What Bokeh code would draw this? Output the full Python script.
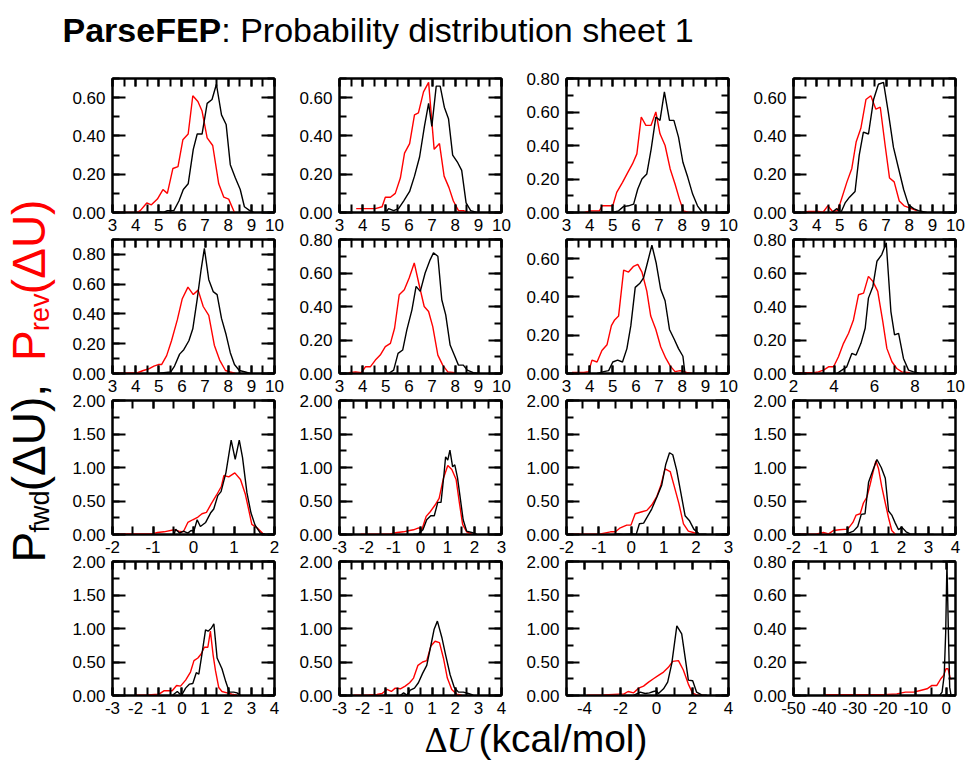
import math
from bokeh.plotting import figure
from bokeh.models import LinearAxis, FixedTicker, PrintfTickFormatter, CustomJSTickFormatter, Range1d, Label
from bokeh.layouts import column, row
from bokeh.embed import file_html
from bokeh.resources import INLINE

FONT = "Liberation Sans"
SERIF = "Liberation Serif"

# ---------------- data ----------------
p1_rev_x = [3.14, 4.05, 4.2, 4.48, 4.68, 4.94, 5.18, 5.37, 5.61, 5.83, 6.04, 6.27, 6.47, 6.69, 6.87, 7.09, 7.33, 7.59, 7.81, 8.02, 8.27]
p1_rev_y = [0.0, 0.0, 0.01, 0.05, 0.04, 0.07, 0.12, 0.10, 0.23, 0.24, 0.38, 0.41, 0.61, 0.58, 0.53, 0.39, 0.35, 0.15, 0.08, 0.07, 0.0]
p1_fwd_x = [4.94, 5.2, 5.37, 5.65, 5.87, 6.06, 6.27, 6.49, 6.66, 6.87, 7.09, 7.3, 7.49, 7.71, 7.91, 8.09, 8.31, 8.52, 8.7, 8.93, 9.1]
p1_fwd_y = [0.005, 0.0, 0.01, 0.01, 0.06, 0.12, 0.15, 0.33, 0.41, 0.41, 0.57, 0.59, 0.67, 0.51, 0.46, 0.25, 0.18, 0.12, 0.03, 0.01, 0.0]

p2_rev_x = [3.72, 4.55, 4.84, 4.98, 5.2, 5.41, 5.63, 5.81, 6.03, 6.24, 6.41, 6.63, 6.85, 7.09, 7.32, 7.52, 7.73, 7.92, 8.14, 8.35, 8.57]
p2_rev_y = [0.02, 0.02, 0.03, 0.08, 0.08, 0.10, 0.18, 0.31, 0.36, 0.51, 0.52, 0.63, 0.68, 0.33, 0.36, 0.19, 0.13, 0.06, 0.01, 0.01, 0.0]
p2_fwd_x = [5.0, 5.12, 5.34, 5.55, 5.77, 6.03, 6.24, 6.46, 6.67, 6.85, 6.99, 7.18, 7.35, 7.53, 7.71, 7.89, 8.11, 8.28, 8.47, 8.67, 8.93]
p2_fwd_y = [0.0, 0.02, 0.01, 0.02, 0.06, 0.11, 0.19, 0.29, 0.45, 0.57, 0.45, 0.66, 0.66, 0.55, 0.49, 0.30, 0.26, 0.22, 0.05, 0.01, 0.0]

p3_rev_x = [3.79, 4.03, 4.42, 4.54, 5.0, 5.17, 5.42, 5.65, 5.85, 6.04, 6.23, 6.43, 6.65, 6.86, 7.04, 7.26, 7.48, 7.69, 7.88, 8.05, 8.27, 8.45]
p3_rev_y = [0.0, 0.01, 0.01, 0.04, 0.04, 0.12, 0.18, 0.24, 0.29, 0.35, 0.57, 0.52, 0.52, 0.60, 0.47, 0.40, 0.26, 0.17, 0.08, 0.01, 0.0, 0.0]
p3_fwd_x = [4.46, 4.75, 5.0, 5.25, 5.46, 5.68, 5.9, 6.08, 6.26, 6.47, 6.66, 6.86, 7.04, 7.23, 7.45, 7.64, 7.84, 8.03, 8.24, 8.45, 8.66, 8.87]
p3_fwd_y = [0.0, 0.005, 0.0, 0.01, 0.035, 0.04, 0.05, 0.14, 0.20, 0.23, 0.38, 0.57, 0.55, 0.72, 0.55, 0.55, 0.45, 0.30, 0.21, 0.11, 0.04, 0.0]

p4_rev_x = [3.4, 3.65, 4.08, 4.27, 4.48, 4.69, 4.9, 5.02, 5.31, 5.52, 5.71, 5.91, 6.13, 6.34, 6.56, 6.75, 6.96, 7.15, 7.35, 7.57, 7.78, 8.33]
p4_rev_y = [0.0, 0.005, 0.005, 0.0, 0.035, 0.005, 0.01, 0.05, 0.16, 0.23, 0.37, 0.44, 0.59, 0.61, 0.54, 0.55, 0.35, 0.18, 0.16, 0.06, 0.035, 0.01]
p4_fwd_x = [4.66, 4.87, 5.05, 5.23, 5.42, 5.66, 5.84, 6.02, 6.24, 6.46, 6.67, 6.89, 7.1, 7.32, 7.54, 7.76, 7.97, 8.19, 8.4, 8.76]
p4_fwd_y = [0.0, 0.02, 0.0, 0.05, 0.08, 0.11, 0.30, 0.42, 0.41, 0.59, 0.67, 0.68, 0.52, 0.34, 0.23, 0.12, 0.04, 0.02, 0.01, 0.0]

p5_rev_x = [3.07, 4.08, 4.33, 4.55, 4.79, 4.98, 5.12, 5.34, 5.55, 5.8, 6.01, 6.26, 6.49, 6.7, 6.92, 7.16, 7.4, 7.63, 7.88, 8.09, 8.31]
p5_rev_y = [0.0, 0.005, 0.02, 0.03, 0.05, 0.06, 0.06, 0.12, 0.22, 0.36, 0.50, 0.58, 0.53, 0.56, 0.45, 0.39, 0.19, 0.09, 0.02, 0.01, 0.0]
p5_fwd_x = [4.94, 5.22, 5.51, 5.68, 5.9, 6.08, 6.3, 6.47, 6.66, 6.83, 6.97, 7.16, 7.35, 7.52, 7.71, 7.91, 8.09, 8.27, 8.48, 8.74, 8.95]
p5_fwd_y = [0.0, 0.005, 0.01, 0.05, 0.13, 0.16, 0.22, 0.30, 0.50, 0.70, 0.84, 0.63, 0.55, 0.53, 0.37, 0.26, 0.14, 0.06, 0.02, 0.01, 0.0]

p6_rev_x = [3.4, 3.69, 3.95, 4.12, 4.33, 4.55, 4.76, 4.98, 5.2, 5.38, 5.58, 5.8, 6.01, 6.23, 6.44, 6.66, 6.85, 7.03, 7.25, 7.46, 7.68, 7.99]
p6_rev_y = [0.005, 0.01, 0.005, 0.04, 0.04, 0.08, 0.11, 0.16, 0.18, 0.27, 0.47, 0.50, 0.57, 0.66, 0.53, 0.40, 0.37, 0.28, 0.11, 0.05, 0.01, 0.005]
p6_fwd_x = [5.12, 5.34, 5.53, 5.73, 5.91, 6.13, 6.31, 6.49, 6.7, 6.92, 7.06, 7.25, 7.42, 7.59, 7.78, 7.96, 8.14, 8.35, 8.52, 8.78, 9.07]
p6_fwd_y = [0.0, 0.02, 0.12, 0.14, 0.26, 0.38, 0.52, 0.49, 0.60, 0.68, 0.72, 0.70, 0.44, 0.35, 0.17, 0.11, 0.05, 0.05, 0.02, 0.005, 0.0]

p7_rev_x = [3.24, 3.75, 3.96, 4.1, 4.32, 4.53, 4.75, 4.94, 5.08, 5.25, 5.47, 5.68, 5.9, 6.08, 6.26, 6.47, 6.64, 6.86, 7.07, 7.29, 7.48, 7.69, 7.91, 8.19, 8.41]
p7_rev_y = [0.005, 0.005, 0.01, 0.07, 0.06, 0.12, 0.15, 0.25, 0.28, 0.30, 0.54, 0.53, 0.56, 0.57, 0.53, 0.43, 0.30, 0.23, 0.14, 0.08, 0.04, 0.01, 0.015, 0.005, 0.0]
p7_fwd_x = [4.32, 4.61, 4.82, 5.0, 5.21, 5.42, 5.61, 5.78, 5.97, 6.16, 6.33, 6.5, 6.69, 6.87, 7.07, 7.26, 7.45, 7.65, 7.84, 8.03, 8.12, 8.6, 9.0]
p7_fwd_y = [0.0, 0.01, 0.015, 0.06, 0.07, 0.06, 0.13, 0.25, 0.45, 0.47, 0.50, 0.58, 0.67, 0.58, 0.44, 0.38, 0.23, 0.18, 0.13, 0.09, 0.0, 0.0, 0.0]

p8_rev_x = [2.25, 2.99, 3.23, 3.48, 3.73, 3.98, 4.22, 4.47, 4.72, 4.96, 5.21, 5.46, 5.7, 5.92, 6.16, 6.41, 6.61, 6.86, 7.1, 7.35, 7.76]
p8_rev_y = [0.005, 0.005, 0.01, 0.02, 0.04, 0.04, 0.10, 0.18, 0.24, 0.32, 0.47, 0.48, 0.58, 0.55, 0.49, 0.31, 0.15, 0.07, 0.03, 0.01, 0.005]
p8_fwd_x = [4.14, 4.39, 4.63, 4.88, 5.09, 5.33, 5.54, 5.7, 5.92, 6.12, 6.36, 6.58, 6.81, 6.99, 7.19, 7.43, 7.68, 7.93, 8.26]
p8_fwd_y = [0.0, 0.02, 0.04, 0.12, 0.11, 0.18, 0.27, 0.45, 0.52, 0.67, 0.71, 0.78, 0.37, 0.23, 0.24, 0.09, 0.02, 0.01, 0.0]

p9_rev_x = [-1.92, -1.63, -1.02, -0.89, -0.73, -0.48, -0.36, -0.25, -0.14, -0.02, 0.11, 0.21, 0.32, 0.44, 0.57, 0.69, 0.75, 0.87, 1.02, 1.16, 1.28, 1.36, 1.44, 1.57, 1.73]
p9_rev_y = [0.005, 0.01, 0.01, 0.03, 0.04, 0.07, 0.05, 0.04, 0.18, 0.22, 0.26, 0.31, 0.33, 0.46, 0.59, 0.72, 0.88, 0.86, 0.92, 0.82, 0.60, 0.38, 0.15, 0.10, 0.005]
p9_fwd_x = [-0.48, -0.44, -0.34, -0.25, -0.14, -0.06, 0.01, 0.09, 0.17, 0.3, 0.42, 0.5, 0.6, 0.68, 0.8, 0.93, 1.03, 1.13, 1.21, 1.32, 1.42, 1.52, 1.65, 1.77]
p9_fwd_y = [0.0, 0.08, 0.02, 0.05, 0.02, 0.06, 0.05, 0.22, 0.12, 0.18, 0.32, 0.38, 0.58, 0.64, 0.92, 1.41, 1.12, 1.41, 1.15, 0.62, 0.32, 0.14, 0.02, 0.005]

p10_rev_x = [-2.22, -1.12, -0.87, -0.63, -0.4, -0.26, -0.07, 0.05, 0.21, 0.36, 0.54, 0.69, 0.85, 1.01, 1.16, 1.32, 1.43, 1.56, 1.71, 1.9]
p10_rev_y = [0.005, 0.01, 0.03, 0.04, 0.06, 0.07, 0.10, 0.07, 0.27, 0.34, 0.44, 0.54, 0.84, 1.03, 0.97, 0.82, 0.50, 0.15, 0.04, 0.005]
p10_fwd_x = [-0.26, -0.07, 0.09, 0.23, 0.38, 0.51, 0.64, 0.76, 0.87, 0.93, 1.01, 1.09, 1.19, 1.27, 1.37, 1.46, 1.58, 1.71, 1.9, 2.08]
p10_fwd_y = [0.005, 0.01, 0.07, 0.22, 0.28, 0.28, 0.48, 0.48, 0.90, 1.16, 1.11, 1.26, 1.01, 1.04, 0.85, 0.58, 0.22, 0.05, 0.03, 0.005]

p11_rev_x = [-1.93, -0.95, -0.64, -0.49, -0.34, -0.14, -0.01, 0.12, 0.33, 0.48, 0.63, 0.79, 0.91, 1.04, 1.2, 1.32, 1.47, 1.61, 1.76, 1.91, 2.07]
p11_rev_y = [0.005, 0.01, 0.04, 0.04, 0.10, 0.14, 0.14, 0.31, 0.34, 0.36, 0.44, 0.57, 0.73, 0.98, 0.94, 0.73, 0.46, 0.16, 0.05, 0.03, 0.005]
p11_fwd_x = [-0.54, -0.39, -0.24, 0.02, 0.15, 0.25, 0.38, 0.5, 0.63, 0.79, 0.94, 1.06, 1.18, 1.28, 1.4, 1.53, 1.66, 1.79, 1.93, 2.09, 2.32]
p11_fwd_y = [0.0, 0.01, 0.0, 0.01, 0.0, 0.16, 0.17, 0.27, 0.38, 0.56, 0.74, 1.04, 1.22, 1.19, 0.96, 0.62, 0.28, 0.21, 0.08, 0.01, 0.005]

p12_rev_x = [-1.88, -1.14, -0.89, -0.7, -0.52, -0.3, 0.01, 0.2, 0.32, 0.47, 0.59, 0.72, 0.84, 0.94, 1.05, 1.15, 1.27, 1.4, 1.52, 1.64, 1.77]
p12_rev_y = [0.005, 0.01, 0.03, 0.01, 0.06, 0.07, 0.08, 0.18, 0.29, 0.31, 0.47, 0.56, 0.75, 0.92, 1.10, 0.98, 0.71, 0.47, 0.25, 0.06, 0.005]
p12_fwd_x = [-0.15, 0.04, 0.22, 0.38, 0.51, 0.65, 0.78, 0.94, 1.09, 1.25, 1.4, 1.52, 1.64, 1.77, 1.89, 2.01, 2.17, 2.32, 2.69, 3.19]
p12_fwd_y = [0.0, 0.02, 0.05, 0.12, 0.30, 0.31, 0.78, 0.96, 1.12, 1.00, 0.84, 0.35, 0.29, 0.17, 0.07, 0.11, 0.04, 0.01, 0.005, 0.0]

p13_rev_x = [-2.0, -1.49, -0.99, -0.78, -0.42, -0.23, -0.06, 0.16, 0.37, 0.52, 0.69, 0.83, 0.97, 1.12, 1.23, 1.35, 1.45, 1.59, 1.73, 1.95, 2.16, 2.38]
p13_rev_y = [0.005, 0.01, 0.02, 0.07, 0.07, 0.15, 0.14, 0.23, 0.35, 0.52, 0.56, 0.62, 0.72, 0.72, 0.96, 0.60, 0.37, 0.12, 0.06, 0.04, 0.02, 0.005]
p13_fwd_x = [-0.42, -0.2, -0.02, 0.16, 0.33, 0.47, 0.62, 0.73, 0.87, 1.02, 1.13, 1.26, 1.38, 1.52, 1.73, 1.9, 2.05, 2.24, 2.38, 2.52]
p13_fwd_y = [0.0, 0.06, 0.0, 0.11, 0.17, 0.18, 0.34, 0.32, 0.63, 0.98, 0.96, 1.00, 1.07, 0.56, 0.40, 0.20, 0.05, 0.05, 0.04, 0.005]

p14_rev_x = [-2.38, -1.74, -1.38, -1.16, -0.95, -0.76, -0.59, -0.37, -0.16, 0.03, 0.2, 0.39, 0.59, 0.77, 0.95, 1.13, 1.32, 1.49, 1.66, 1.85, 2.06, 2.28]
p14_rev_y = [0.005, 0.01, 0.015, 0.03, 0.09, 0.06, 0.11, 0.10, 0.14, 0.19, 0.26, 0.45, 0.50, 0.52, 0.74, 0.81, 0.79, 0.56, 0.26, 0.09, 0.02, 0.005]
p14_fwd_x = [-0.37, -0.23, -0.09, 0.06, 0.24, 0.41, 0.59, 0.77, 0.95, 1.09, 1.23, 1.42, 1.59, 1.78, 1.96, 2.14, 2.35, 2.57, 2.78]
p14_fwd_y = [0.0, 0.04, 0.005, 0.08, 0.11, 0.19, 0.33, 0.45, 0.75, 0.99, 1.11, 0.87, 0.60, 0.31, 0.12, 0.05, 0.05, 0.03, 0.005]

p15_rev_x = [-3.86, -2.93, -2.1, -1.82, -1.58, -1.27, -0.99, -0.72, -0.44, -0.17, 0.11, 0.39, 0.66, 0.9, 1.22, 1.49, 1.77, 1.99, 2.23, 2.6]
p15_rev_y = [0.005, 0.01, 0.02, 0.02, 0.06, 0.04, 0.11, 0.14, 0.20, 0.25, 0.30, 0.35, 0.42, 0.51, 0.52, 0.38, 0.17, 0.04, 0.01, 0.005]
p15_fwd_x = [-1.27, -0.9, -0.63, -0.39, -0.17, -0.02, 0.11, 0.39, 0.62, 0.85, 1.13, 1.4, 1.59, 1.77, 2.01, 2.23, 2.51, 2.79]
p15_fwd_y = [0.0, 0.05, 0.03, 0.04, 0.06, 0.07, 0.03, 0.10, 0.20, 0.48, 1.04, 0.92, 0.57, 0.23, 0.22, 0.05, 0.01, 0.005]

p16_rev_x = [-40.2, -20.6, -16.2, -13.4, -10.7, -8.5, -6.3, -4.7, -3.1, -1.8, -0.9, -0.1, 0.55, 1.3, 1.9]
p16_rev_y = [0.005, 0.005, 0.01, 0.02, 0.02, 0.03, 0.04, 0.06, 0.06, 0.10, 0.12, 0.16, 0.16, 0.10, 0.10]
p16_fwd_x = [-2.2, -1.4, -0.7, -0.2, 0.2, 0.65, 1.1, 1.5]
p16_fwd_y = [0.0, 0.02, 0.12, 0.38, 0.79, 0.40, 0.05, 0.005]

# axis ranges and ticks per panel
x_ranges = [(3, 10)] * 7 + [(2, 10), (-2, 2), (-3, 3), (-2, 3), (-2, 4), (-3, 4), (-3, 4), (-5, 4), (-50, 3)]
x_major_step = [1] * 7 + [2, 1, 1, 1, 1, 1, 1, 2, 10]
x_minor_step = [0.5] * 7 + [0.5, 0.5, 0.5, 0.5, 0.5, 0.5, 0.5, 1, 5]
y_max = [0.7, 0.7, 0.8, 0.7, 0.9, 0.8, 0.7, 0.8, 2.0, 2.0, 2.0, 2.0, 2.0, 2.0, 2.0, 0.8]

fwd_x = [p1_fwd_x, p2_fwd_x, p3_fwd_x, p4_fwd_x, p5_fwd_x, p6_fwd_x, p7_fwd_x, p8_fwd_x,
         p9_fwd_x, p10_fwd_x, p11_fwd_x, p12_fwd_x, p13_fwd_x, p14_fwd_x, p15_fwd_x, p16_fwd_x]
fwd_y = [p1_fwd_y, p2_fwd_y, p3_fwd_y, p4_fwd_y, p5_fwd_y, p6_fwd_y, p7_fwd_y, p8_fwd_y,
         p9_fwd_y, p10_fwd_y, p11_fwd_y, p12_fwd_y, p13_fwd_y, p14_fwd_y, p15_fwd_y, p16_fwd_y]
rev_x = [p1_rev_x, p2_rev_x, p3_rev_x, p4_rev_x, p5_rev_x, p6_rev_x, p7_rev_x, p8_rev_x,
         p9_rev_x, p10_rev_x, p11_rev_x, p12_rev_x, p13_rev_x, p14_rev_x, p15_rev_x, p16_rev_x]
rev_y = [p1_rev_y, p2_rev_y, p3_rev_y, p4_rev_y, p5_rev_y, p6_rev_y, p7_rev_y, p8_rev_y,
         p9_rev_y, p10_rev_y, p11_rev_y, p12_rev_y, p13_rev_y, p14_rev_y, p15_rev_y, p16_rev_y]


def steps(lo, hi, step):
    out = []
    k = math.ceil(lo / step - 1e-9)
    while k * step <= hi + 1e-9:
        out.append(round(k * step, 6))
        k += 1
    return out


def style_axis(ax, labels, major_in, minor_in):
    ax.axis_line_width = 2
    ax.axis_line_color = "black"
    ax.major_tick_line_width = 2
    ax.minor_tick_line_width = 2
    ax.major_tick_in = major_in
    ax.major_tick_out = 0
    ax.minor_tick_in = minor_in
    ax.minor_tick_out = 0
    if labels:
        ax.major_label_text_font = FONT
        ax.major_label_text_font_size = "17px"
        ax.major_label_text_color = "black"
    else:
        ax.formatter = CustomJSTickFormatter(code="return ''")
        ax.major_label_text_font_size = "1px"
        ax.major_label_text_color = None
        ax.major_label_standoff = 0


TOP_PAD = 10      # room above each frame for a top tick label, overlapping the row above
ROW_PITCH = 161
FRAME_H = 134


def make_panel(i):
    x0, x1 = x_ranges[i]
    ym = y_max[i]
    ystep = 0.5 if ym > 1 else 0.2
    xt = FixedTicker(ticks=steps(x0, x1, x_major_step[i]), minor_ticks=steps(x0, x1, x_minor_step[i]))
    yt = FixedTicker(ticks=steps(0, ym, ystep), minor_ticks=steps(0, ym, ystep / 2))
    p = figure(width=227, height=ROW_PITCH + TOP_PAD,
               x_range=Range1d(x0, x1), y_range=Range1d(0, ym),
               x_axis_type=None, y_axis_type=None,
               min_border_left=55, min_border_right=10,
               min_border_top=TOP_PAD, min_border_bottom=ROW_PITCH - FRAME_H,
               toolbar_location=None, output_backend="svg",
               margin=(-TOP_PAD, 0, 0, 0))
    p.outline_line_color = "black"
    p.outline_line_width = 2
    p.background_fill_color = "white"
    p.border_fill_color = None

    bx = LinearAxis(ticker=xt, formatter=PrintfTickFormatter(format="%d"))
    style_axis(bx, True, 8, 8)
    bx.major_label_standoff = 6
    p.add_layout(bx, "below")
    tx = LinearAxis(ticker=xt)
    style_axis(tx, False, 8, 8)
    p.add_layout(tx, "above")

    ly = LinearAxis(ticker=yt, formatter=PrintfTickFormatter(format="%.2f"))
    style_axis(ly, True, 13, 7)
    ly.major_label_standoff = 7
    p.add_layout(ly, "left")
    ry = LinearAxis(ticker=yt)
    style_axis(ry, False, 13, 7)
    p.add_layout(ry, "right")

    p.line(rev_x[i], rev_y[i], line_color="red", line_width=1.4)
    p.line(fwd_x[i], fwd_y[i], line_color="black", line_width=1.4)
    return p


def text_fig(w, h, overlap=0):
    f = figure(width=w, height=h + overlap, x_range=Range1d(0, w), y_range=Range1d(0, h + overlap),
               x_axis_type=None, y_axis_type=None, min_border=0,
               toolbar_location=None, output_backend="svg",
               margin=(-overlap, 0, 0, 0))
    f.outline_line_color = None
    f.border_fill_color = None
    f.background_fill_color = None
    f.grid.visible = False
    return f


# the renderer draws "alphabetic" text about a third of an em below the anchor
DROP = 0.33

panels = [make_panel(i) for i in range(16)]
grid = column([row(panels[r * 4:(r + 1) * 4]) for r in range(4)])

# title
TITLE_H = 78
T_SIZE = 34
T_BASE = 41      # baseline, pixels from page top
tf = text_fig(965, TITLE_H)
ty = TITLE_H - T_BASE + DROP * T_SIZE
tf.add_layout(Label(x=62, y=ty, text="ParseFEP", text_font=FONT, text_font_style="bold",
                    text_font_size=f"{T_SIZE}px", text_baseline="alphabetic", text_color="black"))
tf.add_layout(Label(x=62 + 4.669 * T_SIZE, y=ty, text=": Probability distribution sheet 1", text_font=FONT,
                    text_font_size=f"{T_SIZE}px", text_baseline="alphabetic", text_color="black"))

# y label (rotated, built piece by piece)
YL_H = 4 * ROW_PITCH
yf = text_fig(57, YL_H)
ADV = {'P': 0.667, 'f': 0.278, 'w': 0.722, 'd': 0.556, ' ': 0.278, '(': 0.333, '\u0394': 0.668,
       'U': 0.722, ')': 0.333, ',': 0.278, 'r': 0.333, 'e': 0.556, 'v': 0.5}
BIG, SUB = 46, 27
pieces = [("P", BIG, "black", 0), ("fwd", SUB, "black", 4), (" (\u0394U), ", BIG, "black", 0),
          ("P", BIG, "red", 0), ("rev", SUB, "red", 4), (" (\u0394U)", BIG, "red", 0)]
pos = (78 + YL_H) - 562
base_x = 44
for t, size, colr, shift in pieces:
    yf.add_layout(Label(x=base_x + shift - DROP * size, y=pos, text=t, angle=math.pi / 2, text_font=FONT,
                        text_font_size=f"{size}px", text_color=colr,
                        text_baseline="alphabetic", text_align="left"))
    pos += sum(ADV[c] for c in t) * size * 0.98

# x label (its strip reaches up over the transparent bottom of the last panel row)
XL_H = 764 - 78 - YL_H
xf = text_fig(965, XL_H, overlap=16)
X_BASE = 751
XB = 764 - X_BASE
xf.add_layout(Label(x=424, y=XB + DROP * 36, text="\u0394", text_font=SERIF, text_font_size="36px",
                    text_baseline="alphabetic", text_color="black"))
xf.add_layout(Label(x=446, y=XB + DROP * 36, text="U", text_font=SERIF, text_font_style="italic",
                    text_font_size="36px", text_baseline="alphabetic", text_color="black"))
xf.add_layout(Label(x=478, y=XB + DROP * 39, text="(kcal/mol)", text_font=FONT, text_font_size="39px",
                    text_baseline="alphabetic", text_color="black"))

layout = column(tf, row(yf, grid), xf)
open("out.html", "w").write(file_html(layout, INLINE))
